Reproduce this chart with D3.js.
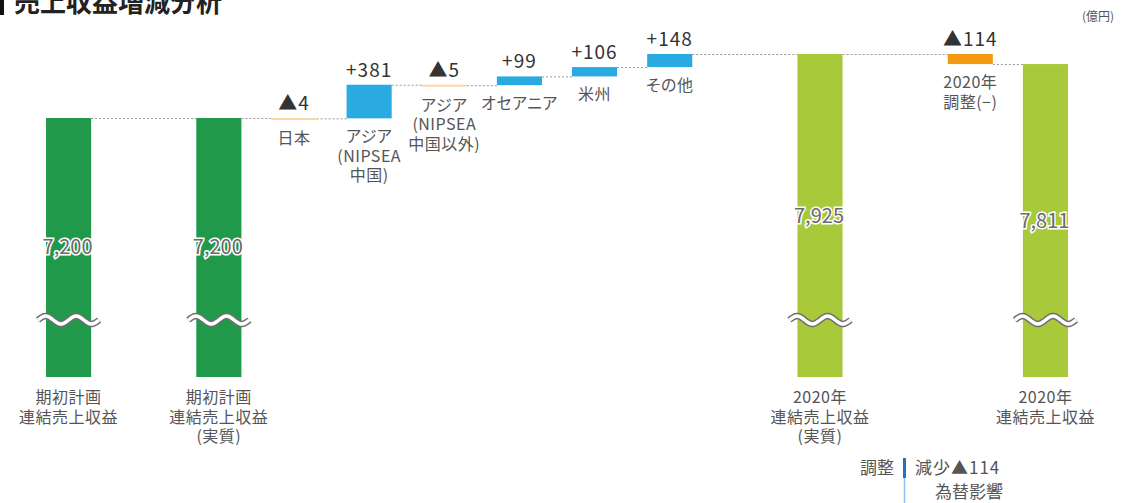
<!DOCTYPE html>
<html>
<head>
<meta charset="utf-8">
<script src="https://cdn.jsdelivr.net/npm/d3@7"></script>
<style>
  body { margin: 0; background: #fff; }
  svg text { font-family: "Noto Sans CJK JP", "Noto Sans", sans-serif; font-feature-settings: "palt"; }
</style>
</head>
<body>
<div id="chart"></div>
<script>
// data (億円)
const categories = [
    "期初計画|連結売上収益",
    "期初計画|連結売上収益|(実質)",
    "日本",
    "アジア|(NIPSEA|中国)",
    "アジア|(NIPSEA|中国以外)",
    "オセアニア",
    "米州",
    "その他",
    "2020年|連結売上収益|(実質)",
    "2020年|調整(−)",
    "2020年|連結売上収益"
];
const values = [7200, 7200, -4, 381, -5, 99, 106, 148, 7925, -114, 7811];
const kinds = ["plan", "plan", "delta", "delta", "delta", "delta", "delta", "delta", "result", "adjust", "result"];
const noteLines = [["調整"], ["減少▲114", "為替影響"]];
const unitLabel = "(億円)";
const title = "売上収益増減分析";

const width = 1121, height = 503;
const colors = {
    plan: "#21994a",
    result: "#a8c93a",
    up: "#29abe2",
    down: "#fcd6a8",
    adjust: "#f39a12"
};

const svg = d3.select("#chart").append("svg")
    .attr("width", width)
    .attr("height", height);

// title
svg.append("rect").attr("x", 0).attr("y", 0).attr("width", 4).attr("height", 15).attr("fill", "#111");
svg.append("text")
    .attr("x", 14).attr("y", 12)
    .attr("font-size", 26).attr("font-weight", 700).attr("fill", "#222")
    .text(title);

svg.append("text")
    .attr("x", 1114).attr("y", 21)
    .attr("text-anchor", "end")
    .attr("font-size", 12).attr("fill", "#555")
    .text(unitLabel);

// build waterfall rows
let running = 0;
const rows = values.map(function(v, i) {
    let start, end;
    if (kinds[i] === "plan" || kinds[i] === "result") {
        start = null; end = v; running = v;
    } else {
        start = running; end = running + v; running = end;
    }
    return { i: i, label: categories[i], value: v, kind: kinds[i], start: start, end: end };
});

// slots: blank columns after the first bar, after "その他" and after the 2020 actual bar
const gapsAfter = [0, 7, 8];
const slots = [];
rows.forEach(function(r) {
    slots.push("c" + r.i);
    if (gapsAfter.includes(r.i)) slots.push("gap" + r.i);
});

const x = d3.scaleBand()
    .domain(slots)
    .range([31, 1083])
    .paddingInner(0.4)
    .paddingOuter(0.2);

// broken axis: the bars are cut by the wave mark, so the base is not zero
const axisBase = 4266;
const y = d3.scaleLinear()
    .domain([axisBase, 7925])
    .range([377, 54]);

function barTop(r) {
    if (r.start === null) return y(r.end);
    return y(Math.max(r.start, r.end));
}
function barBottom(r) {
    if (r.start === null) return y(axisBase);
    const b = y(Math.min(r.start, r.end));
    return Math.max(b, barTop(r) + 2);
}
function barColor(r) {
    if (r.kind === "plan") return colors.plan;
    if (r.kind === "result") return colors.result;
    if (r.kind === "adjust") return colors.adjust;
    return r.value >= 0 ? colors.up : colors.down;
}

// dotted connectors between consecutive bars
for (let k = 0; k < rows.length - 1; k++) {
    const a = rows[k], b = rows[k + 1];
    svg.append("line")
        .attr("x1", x("c" + a.i) + x.bandwidth())
        .attr("x2", x("c" + b.i))
        .attr("y1", y(a.end) + 0.5)
        .attr("y2", y(a.end) + 0.5)
        .attr("stroke", "#9a9a9a")
        .attr("stroke-width", 1)
        .attr("stroke-dasharray", "2,2");
}

svg.selectAll("rect.bar")
    .data(rows)
    .enter().append("rect")
        .attr("class", "bar")
        .attr("x", d => x("c" + d.i))
        .attr("y", d => barTop(d))
        .attr("width", x.bandwidth())
        .attr("height", d => barBottom(d) - barTop(d))
        .attr("fill", d => barColor(d));

const totals = rows.filter(d => d.start === null);
const steps = rows.filter(d => d.start !== null);

// wave break marks
const waveY = 320;
totals.forEach(function(d) {
    const x0 = x("c" + d.i) - 8, x1 = x("c" + d.i) + x.bandwidth() + 8;
    const pts = d3.range(0, 41).map(function(k) {
        const t = k / 40;
        return [x0 + t * (x1 - x0), waveY - 4 * Math.sin(t * Math.PI * 4)];
    });
    const line = d3.line().curve(d3.curveBasis);
    svg.append("path").attr("d", line(pts))
        .attr("fill", "none").attr("stroke", "#6f6f6f").attr("stroke-width", 6.5);
    svg.append("path").attr("d", line(pts))
        .attr("fill", "none").attr("stroke", "#fff").attr("stroke-width", 3.5);
});

// total values inside the bars
svg.selectAll("text.total")
    .data(totals)
    .enter().append("text")
        .attr("class", "total")
        .attr("x", d => x("c" + d.i) + x.bandwidth() / 2 - 1)
        .attr("y", d => (barTop(d) + y(axisBase)) / 2 + 7)
        .attr("text-anchor", "middle")
        .attr("font-size", 20)
        .attr("fill", "#6a6a6a")
        .attr("stroke", "#fff")
        .attr("stroke-width", 3)
        .attr("paint-order", "stroke")
        .text(d => d3.format(",")(d.value));

// step values above the bars
const stepFmt = v => v >= 0 ? "+" + v : "▲" + Math.abs(v);
svg.selectAll("text.step")
    .data(steps)
    .enter().append("text")
        .attr("class", "step")
        .attr("x", d => x("c" + d.i) + x.bandwidth() / 2)
        .attr("y", d => barTop(d) - 8)
        .attr("text-anchor", "middle")
        .attr("font-size", 19)
        .attr("letter-spacing", 1)
        .attr("fill", "#333")
        .text(d => stepFmt(d.value));

// category labels below each bar
const lineH = 19.5;
rows.forEach(function(d) {
    const t = svg.append("text")
        .attr("text-anchor", "middle")
        .attr("font-size", 16)
        .attr("letter-spacing", 0.5)
        .attr("fill", "#555");
    const base = barBottom(d) + (d.start === null ? 26 : 24);
    d.label.split("|").forEach(function(s, k) {
        t.append("tspan")
            .attr("x", x("c" + d.i) + x.bandwidth() / 2)
            .attr("y", base + k * lineH)
            .text(s);
    });
});

// adjustment note at the bottom
svg.append("text")
    .attr("x", 894).attr("y", 474)
    .attr("text-anchor", "end")
    .attr("font-size", 17).attr("fill", "#555")
    .text(noteLines[0][0]);
svg.append("line")
    .attr("x1", 904.5).attr("x2", 904.5).attr("y1", 458).attr("y2", 478)
    .attr("stroke", "#2b6fc0").attr("stroke-width", 3);
svg.append("line")
    .attr("x1", 904.5).attr("x2", 904.5).attr("y1", 478).attr("y2", 503)
    .attr("stroke", "#8fc1ec").attr("stroke-width", 1.5);
svg.append("text")
    .attr("x", 915).attr("y", 474)
    .attr("font-size", 17).attr("letter-spacing", 1).attr("fill", "#555")
    .text(noteLines[1][0]);
svg.append("text")
    .attr("x", 935).attr("y", 498)
    .attr("font-size", 17).attr("fill", "#555")
    .text(noteLines[1][1]);
</script>
</body>
</html>
